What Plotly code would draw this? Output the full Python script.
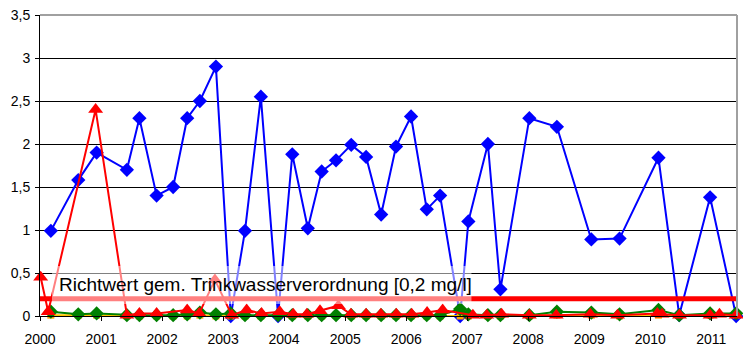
import plotly.graph_objects as go

# Sampling dates of the main series (blue) and its values in mg/l
blue_dates = [
    "2000-03-06", "2000-08-17", "2000-12-05", "2001-06-04", "2001-08-18", "2001-11-29",
    "2002-03-08", "2002-05-31", "2002-08-15", "2002-11-19", "2003-02-16", "2003-05-12",
    "2003-08-15", "2003-11-26", "2004-02-19", "2004-05-22", "2004-08-13", "2004-11-07",
    "2005-02-06", "2005-05-06", "2005-08-04", "2005-11-01", "2006-01-30", "2006-05-04",
    "2006-07-23", "2006-11-20", "2007-01-08", "2007-05-05", "2007-07-19", "2008-01-08",
    "2008-06-21", "2009-01-13", "2009-07-01", "2010-02-19", "2010-06-23", "2010-12-25",
    "2011-05-30",
]
blue_values = [
    0.99, 1.58, 1.90, 1.70, 2.30, 1.40,
    1.50, 2.30, 2.50, 2.90, 0.00, 0.99,
    2.55, 0.00, 1.88, 1.02, 1.68, 1.81,
    1.99, 1.85, 1.18, 1.97, 2.32, 1.24,
    1.40, 0.00, 1.10, 2.00, 0.31, 2.30,
    2.20, 0.89, 0.90, 1.84, 0.01, 1.38,
    0.00,
]

# Green and orange series share the blue sampling dates
green_values = [
    0.05, 0.02, 0.03, 0.01, 0.01, 0.01,
    0.01, 0.02, 0.04, 0.02, 0.03, 0.01,
    0.01, 0.01, 0.01, 0.01, 0.01, 0.01,
    0.01, 0.01, 0.01, 0.01, 0.01, 0.01,
    0.01, 0.08, 0.02, 0.01, 0.01, 0.01,
    0.05, 0.04, 0.02, 0.07, 0.01, 0.03,
    0.03,
]
orange_values = [
    0.01, 0.01, 0.01, 0.00, 0.00, 0.00,
    0.00, 0.00, 0.01, 0.00, 0.00, 0.00,
    0.00, 0.00, 0.00, 0.00, 0.00, 0.01,
    0.00, 0.00, 0.00, 0.00, 0.00, 0.00,
    0.00, 0.00, 0.00, 0.00, 0.00, 0.00,
    0.01, 0.01, 0.00, 0.01, 0.00, 0.01,
    0.01,
]

# Red series (triangles)
red_dates = [
    "2000-01-05", "2000-02-19", "2000-11-29", "2001-06-04", "2001-08-18", "2001-11-29",
    "2002-05-31", "2002-08-11", "2002-11-13", "2003-02-22", "2003-05-22", "2003-08-19",
    "2003-12-06", "2004-02-25", "2004-05-16", "2004-08-03", "2004-11-21", "2005-02-04",
    "2005-05-06", "2005-08-02", "2005-11-03", "2006-02-03", "2006-05-06", "2006-08-07",
    "2007-02-04", "2007-04-28", "2007-07-26", "2008-01-08", "2008-06-17", "2009-01-07",
    "2009-06-19", "2010-02-12", "2010-03-12", "2010-06-25", "2010-12-25", "2011-02-19",
    "2011-05-30",
]
red_values = [
    0.45, 0.05, 2.40, 0.01, 0.03, 0.03,
    0.07, 0.03, 0.42, 0.01, 0.07, 0.03,
    0.05, 0.02, 0.02, 0.06, 0.12, 0.02,
    0.02, 0.02, 0.02, 0.02, 0.04, 0.07,
    0.01, 0.01, 0.02, 0.01, 0.01, 0.02,
    0.01, 0.03, 0.02, 0.01, 0.01, 0.02,
    0.01,
]

# Guide value of the drinking water ordinance
limit_dates = ["2000-01-01", "2011-06-04"]
limit_values = [0.2, 0.2]
limit_label = "Richtwert gem. Trinkwasserverordnung [0,2 mg/l]"

x_range = ["2000-01-01", "2011-06-04"]
y_ticks = [0, 0.5, 1, 1.5, 2, 2.5, 3, 3.5]

FONT = "Liberation Sans, Arial, sans-serif"

fig = go.Figure()

fig.add_trace(go.Scatter(
    x=blue_dates, y=blue_values, mode="lines+markers",
    line=dict(color="#0000FF", width=2),
    marker=dict(symbol="diamond", size=11, color="#0000FF"),
    cliponaxis=False,
))
fig.add_trace(go.Scatter(
    x=blue_dates, y=orange_values, mode="lines+markers",
    line=dict(color="#FFC000", width=2),
    marker=dict(symbol="square", size=7, color="#FFA500"),
    cliponaxis=False,
))
fig.add_trace(go.Scatter(
    x=blue_dates, y=green_values, mode="lines+markers",
    line=dict(color="#008000", width=2),
    marker=dict(symbol="diamond", size=11, color="#008000"),
    cliponaxis=False,
))
fig.add_trace(go.Scatter(
    x=red_dates, y=red_values, mode="lines+markers",
    line=dict(color="#FF0000", width=2),
    marker=dict(symbol="triangle-up", size=13, color="#FF0000"),
    cliponaxis=False,
))
fig.add_trace(go.Scatter(
    x=limit_dates, y=limit_values, mode="lines",
    line=dict(color="#FF0000", width=5),
    cliponaxis=False,
))

# Translucent label box over the lower part of the plot
fig.add_shape(
    type="rect", xref="paper", yref="y",
    x0=0.0172, x1=0.619, y0=0.14, y1=0.58,
    fillcolor="rgba(255,255,255,0.5)", line=dict(width=0), layer="above",
)
fig.add_annotation(
    xref="paper", yref="y", x=0.024, y=0.372,
    xanchor="left", yanchor="middle", showarrow=False,
    text=limit_label, font=dict(family=FONT, size=19, color="#000000"),
)

# Grey frame on top and right of the plot area
fig.add_shape(type="line", xref="paper", yref="paper", x0=0, x1=1, y0=1, y1=1,
              line=dict(color="#A0A0A0", width=2), layer="above")
fig.add_shape(type="line", xref="paper", yref="paper", x0=1, x1=1, y0=0, y1=1,
              line=dict(color="#A0A0A0", width=2), layer="above")

fig.update_layout(
    width=743, height=349,
    margin=dict(l=40, r=6, t=15, b=33, autoexpand=False),
    paper_bgcolor="white", plot_bgcolor="white",
    showlegend=False,
    separators=",.",
    font=dict(family=FONT, size=14, color="#000000"),
    xaxis=dict(
        type="date", range=x_range, automargin=False,
        tick0="2000-01-01", dtick="M12", tickformat="%Y",
        ticks="outside", ticklen=4, tickcolor="#000000",
        ticklabelstandoff=6,
        showline=True, linecolor="#000000", linewidth=1,
        showgrid=False, zeroline=False,
        tickfont=dict(family=FONT, size=14, color="#000000"),
    ),
    yaxis=dict(
        range=[0, 3.5], tickvals=y_ticks, automargin=False,
        ticks="outside", ticklen=4, tickcolor="#000000",
        ticklabelstandoff=2,
        showline=True, linecolor="#000000", linewidth=1,
        showgrid=True, gridcolor="#000000", gridwidth=1,
        zeroline=False,
        tickfont=dict(family=FONT, size=14, color="#000000"),
    ),
)

fig.write_html("out.html")
